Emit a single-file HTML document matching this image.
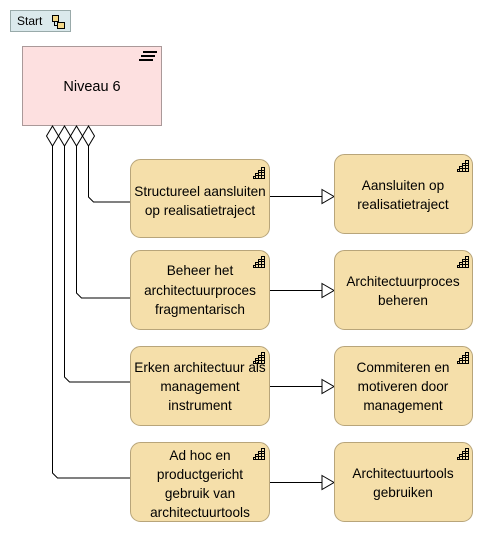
<!DOCTYPE html>
<html><head><meta charset="utf-8"><style>
body{margin:0;background:#fff;width:484px;height:532px;overflow:hidden;font-family:"Liberation Sans",sans-serif;}
</style></head><body>
<svg width="484" height="532" xmlns="http://www.w3.org/2000/svg" font-family="Liberation Sans, sans-serif" font-size="13" fill="#000">
<defs>
<g id="ic" fill="none" stroke="#000" stroke-width="1">
<path d="M0.5 11.5h11v-11h-3v3h-3v3h-3v3h-2z M2.5 8.5v3 M5.5 5.5v6 M8.5 3.5v8 M2.5 8.5h9 M5.5 5.5h6 M8.5 3.5h3"/>
</g>
</defs>
<rect x="10.5" y="10.5" width="60" height="21" fill="#dbe9ec" stroke="#9aa"/>
<text x="17" y="25" font-size="12">Start</text>
<rect x="52.5" y="15.5" width="6" height="6" fill="#f5d98a" stroke="#000"/>
<rect x="57.5" y="22.5" width="7" height="6" fill="#f5d98a" stroke="#000"/>
<path d="M54.5 21.5v4h3" fill="none" stroke="#000"/>
<rect x="22.5" y="46.5" width="139" height="79" fill="#fde0e0" stroke="#a99"/>
<path d="M143 52h14M141 56h14M139 60h14" stroke="#000" stroke-width="2"/>
<text x="92" y="91" text-anchor="middle" font-size="14.5">Niveau 6</text>
<g fill="#fff" stroke="#000">
<path d="M52.5 126l6 10-6 10-6-10z"/><path d="M64.5 126l6 10-6 10-6-10z"/><path d="M76.5 126l6 10-6 10-6-10z"/><path d="M88.5 126l6 10-6 10-6-10z"/>
</g>
<g fill="none" stroke="#000">
<path d="M88.5 146v51l5 5h36.5"/>
<path d="M76.5 146v147l5 5h48.5"/>
<path d="M64.5 146v231l5 5h60.5"/>
<path d="M52.5 146v327l5 5h72.5"/>
<path d="M269 196.5h53M269 290.5h53M269 386.5h53M269 482.5h53"/>
</g>
<g fill="#fff" stroke="#000">
<path d="M322 189.5l12 7-12 7z"/><path d="M322 283.5l12 7-12 7z"/><path d="M322 379.5l12 7-12 7z"/><path d="M322 475.5l12 7-12 7z"/>
</g>
<g fill="#f5dfaa" stroke="#b8a57a">
<rect x="130.5" y="159.5" width="139" height="78" rx="10"/>
<rect x="130.5" y="250.5" width="139" height="79" rx="10"/>
<rect x="130.5" y="346.5" width="139" height="79" rx="10"/>
<rect x="130.5" y="442.5" width="139" height="79" rx="10"/>
<rect x="334.5" y="154.5" width="138" height="79" rx="10"/>
<rect x="334.5" y="250.5" width="138" height="79" rx="10"/>
<rect x="334.5" y="346.5" width="138" height="79" rx="10"/>
<rect x="334.5" y="442.5" width="138" height="79" rx="10"/>
</g>
<use href="#ic" x="253" y="167"/><use href="#ic" x="253" y="256"/><use href="#ic" x="253" y="352"/><use href="#ic" x="253" y="448"/>
<use href="#ic" x="457" y="160"/><use href="#ic" x="457" y="256"/><use href="#ic" x="457" y="352"/><use href="#ic" x="457" y="448"/>
<g text-anchor="middle" font-size="13.6">
<text x="200" y="196">Structureel aansluiten</text><text x="200" y="215">op realisatietraject</text>
<text x="200" y="275">Beheer het</text><text x="200" y="295">architectuurproces</text><text x="200" y="314">fragmentarisch</text>
<text x="200" y="372">Erken architectuur als</text><text x="200" y="391">management</text><text x="200" y="410">instrument</text>
<text x="200" y="460">Ad hoc en</text><text x="200" y="479">productgericht</text><text x="200" y="498">gebruik van</text><text x="200" y="517">architectuurtools</text>
<text x="403" y="190">Aansluiten op</text><text x="403" y="209">realisatietraject</text>
<text x="403" y="286">Architectuurproces</text><text x="403" y="305">beheren</text>
<text x="403" y="372">Commiteren en</text><text x="403" y="391">motiveren door</text><text x="403" y="410">management</text>
<text x="403" y="478">Architectuurtools</text><text x="403" y="497">gebruiken</text>
</g>
</svg>
</body></html>
